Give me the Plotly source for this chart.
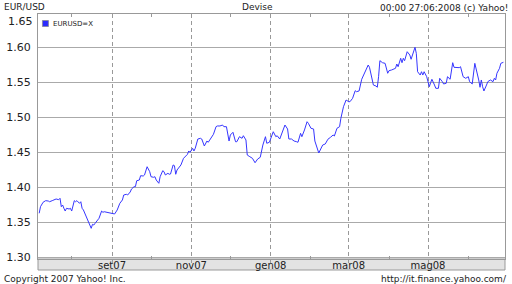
import plotly.graph_objects as go

# ---------------- data ----------------
dates = [
    "2007-07-07", "2007-07-08", "2007-07-10", "2007-07-12", "2007-07-14", "2007-07-15",
    "2007-07-17", "2007-07-19", "2007-07-20", "2007-07-22", "2007-07-23", "2007-07-24",
    "2007-07-25", "2007-07-26", "2007-07-27", "2007-07-28", "2007-07-30", "2007-07-31",
    "2007-08-01", "2007-08-03", "2007-08-04", "2007-08-05", "2007-08-07", "2007-08-08",
    "2007-08-09", "2007-08-10", "2007-08-12", "2007-08-14", "2007-08-16", "2007-08-17",
    "2007-08-18", "2007-08-19", "2007-08-21", "2007-08-22", "2007-08-24", "2007-08-25",
    "2007-08-26", "2007-08-28", "2007-08-30", "2007-09-01", "2007-09-03", "2007-09-05",
    "2007-09-07", "2007-09-09", "2007-09-10", "2007-09-12", "2007-09-13", "2007-09-15",
    "2007-09-16", "2007-09-18", "2007-09-19", "2007-09-20", "2007-09-22", "2007-09-23",
    "2007-09-25", "2007-09-26", "2007-09-28", "2007-09-30", "2007-10-01", "2007-10-03",
    "2007-10-04", "2007-10-05", "2007-10-07", "2007-10-08", "2007-10-10", "2007-10-11",
    "2007-10-12", "2007-10-14", "2007-10-15", "2007-10-16", "2007-10-18", "2007-10-19",
    "2007-10-20", "2007-10-21", "2007-10-23", "2007-10-24", "2007-10-26", "2007-10-28",
    "2007-10-29", "2007-10-30", "2007-10-31", "2007-11-02", "2007-11-03", "2007-11-04",
    "2007-11-06", "2007-11-08", "2007-11-09", "2007-11-11", "2007-11-13", "2007-11-14",
    "2007-11-15", "2007-11-16", "2007-11-18", "2007-11-20", "2007-11-21", "2007-11-23",
    "2007-11-25", "2007-11-26", "2007-11-28", "2007-11-30", "2007-12-01", "2007-12-03",
    "2007-12-05", "2007-12-06", "2007-12-08", "2007-12-10", "2007-12-11", "2007-12-13",
    "2007-12-14", "2007-12-16", "2007-12-18", "2007-12-20", "2007-12-22", "2007-12-24",
    "2007-12-26", "2007-12-28", "2007-12-29", "2007-12-31", "2008-01-02", "2008-01-03",
    "2008-01-05", "2008-01-06", "2008-01-08", "2008-01-10", "2008-01-12", "2008-01-14",
    "2008-01-15", "2008-01-17", "2008-01-19", "2008-01-21", "2008-01-22", "2008-01-24",
    "2008-01-25", "2008-01-27", "2008-01-29", "2008-01-30", "2008-02-01", "2008-02-03",
    "2008-02-04", "2008-02-07", "2008-02-08", "2008-02-10", "2008-02-12", "2008-02-14",
    "2008-02-16", "2008-02-18", "2008-02-19", "2008-02-21", "2008-02-23", "2008-02-24",
    "2008-02-26", "2008-02-28", "2008-03-01", "2008-03-02", "2008-03-04", "2008-03-06",
    "2008-03-07", "2008-03-09", "2008-03-11", "2008-03-12", "2008-03-14", "2008-03-16",
    "2008-03-17", "2008-03-18", "2008-03-20", "2008-03-22", "2008-03-23", "2008-03-24",
    "2008-03-25", "2008-03-27", "2008-03-29", "2008-03-31", "2008-04-01", "2008-04-03",
    "2008-04-04", "2008-04-06", "2008-04-07", "2008-04-08", "2008-04-10", "2008-04-11",
    "2008-04-12", "2008-04-13", "2008-04-15", "2008-04-17", "2008-04-18", "2008-04-20",
    "2008-04-21", "2008-04-22", "2008-04-23", "2008-04-25", "2008-04-26", "2008-04-27",
    "2008-04-28", "2008-04-30", "2008-05-02", "2008-05-03", "2008-05-04", "2008-05-06",
    "2008-05-07", "2008-05-09", "2008-05-10", "2008-05-12", "2008-05-13", "2008-05-15",
    "2008-05-16", "2008-05-18", "2008-05-19", "2008-05-20", "2008-05-21", "2008-05-23",
    "2008-05-25", "2008-05-26", "2008-05-28", "2008-05-30", "2008-06-01", "2008-06-02",
    "2008-06-04", "2008-06-06", "2008-06-07", "2008-06-09", "2008-06-10", "2008-06-11",
    "2008-06-12", "2008-06-13", "2008-06-15", "2008-06-16", "2008-06-18", "2008-06-20",
    "2008-06-21", "2008-06-22", "2008-06-23", "2008-06-25", "2008-06-26", "2008-06-28",
]

eurusd = [
    1.3629, 1.3723, 1.3786, 1.3809, 1.3804, 1.3794,
    1.3809, 1.3819, 1.3833, 1.3823, 1.3843, 1.3723,
    1.3747, 1.3700, 1.3661, 1.3700, 1.3690, 1.3700,
    1.3661, 1.3809, 1.3794, 1.3809, 1.3771, 1.3794,
    1.3700, 1.3676, 1.3580, 1.3486, 1.3414, 1.3471,
    1.3461, 1.3486, 1.3533, 1.3557, 1.3661, 1.3643,
    1.3651, 1.3643, 1.3629, 1.3629, 1.3619, 1.3676,
    1.3771, 1.3819, 1.3890, 1.3900, 1.3890, 1.3933,
    1.3976, 1.4009, 1.4009, 1.4094, 1.4104, 1.4166,
    1.4161, 1.4176, 1.4294, 1.4223, 1.4151, 1.4143,
    1.4151, 1.4104, 1.4057, 1.4151, 1.4237, 1.4223,
    1.4176, 1.4200, 1.4186, 1.4190, 1.4319, 1.4309,
    1.4186, 1.4247, 1.4294, 1.4319, 1.4414, 1.4451,
    1.4471, 1.4519, 1.4500, 1.4557, 1.4519, 1.4557,
    1.4690, 1.4700, 1.4690, 1.4590, 1.4661, 1.4643,
    1.4676, 1.4690, 1.4757, 1.4866, 1.4876, 1.4876,
    1.4890, 1.4866, 1.4866, 1.4661, 1.4747, 1.4786,
    1.4651, 1.4651, 1.4723, 1.4700, 1.4737, 1.4676,
    1.4461, 1.4437, 1.4414, 1.4351, 1.4404, 1.4429,
    1.4604, 1.4723, 1.4629, 1.4643, 1.4747, 1.4794,
    1.4723, 1.4737, 1.4690, 1.4804, 1.4890, 1.4833,
    1.4690, 1.4690, 1.4661, 1.4651, 1.4643, 1.4771,
    1.4723, 1.4819, 1.4937, 1.4914, 1.4843, 1.4833,
    1.4661, 1.4490, 1.4533, 1.4604, 1.4619, 1.4686,
    1.4714, 1.4747, 1.4733, 1.4843, 1.4866, 1.4986,
    1.5151, 1.5247, 1.5223, 1.5223, 1.5271, 1.5380,
    1.5366, 1.5376, 1.5543, 1.5580, 1.5676, 1.5747,
    1.5714, 1.5629, 1.5461, 1.5447, 1.5429, 1.5580,
    1.5809, 1.5780, 1.5771, 1.5629, 1.5666, 1.5676,
    1.5686, 1.5700, 1.5761, 1.5723, 1.5843, 1.5780,
    1.5843, 1.5809, 1.5937, 1.5890, 1.5829, 1.5937,
    1.6000, 1.5914, 1.5651, 1.5604, 1.5651, 1.5604,
    1.5651, 1.5580, 1.5437, 1.5494, 1.5543, 1.5461,
    1.5414, 1.5414, 1.5557, 1.5509, 1.5476, 1.5486,
    1.5580, 1.5543, 1.5651, 1.5780, 1.5714, 1.5714,
    1.5709, 1.5723, 1.5580, 1.5557, 1.5580, 1.5509,
    1.5476, 1.5771, 1.5700, 1.5533, 1.5429, 1.5533,
    1.5437, 1.5376, 1.5461, 1.5509, 1.5533, 1.5509,
    1.5557, 1.5533, 1.5629, 1.5700, 1.5771, 1.5786,
]

month_ticks = ["2007-09-01", "2007-11-01", "2008-01-01", "2008-03-01", "2008-05-01"]
month_labels = ["set07", "nov07", "gen08", "mar08", "mag08"]
minor_month_ticks = ["2007-08-01", "2007-10-01", "2007-12-01", "2008-02-01",
                     "2008-04-01", "2008-06-01"]
y_ticks = [1.30, 1.35, 1.40, 1.45, 1.50, 1.55, 1.60]
y_labels = ["1.30", "1.35", "1.40", "1.45", "1.50", "1.55", "1.60"]
top_label = "1.65"
series_name = "EURUSD=X"

FONT = "DejaVu Sans"
GRID = "#aaaaaa"
BORDER = "#999999"
LINE = "#3636ff"

# plot-area geometry in pixels (for paper-coordinate decorations)
W, H = 512, 284
L, R, T, B = 35, 506, 14, 259


def px(x):
    return (x - L) / (R - L)


def py(y):
    return (B - y) / (B - T)


fig = go.Figure()
fig.add_trace(go.Scatter(
    x=dates, y=eurusd, mode="lines", name=series_name,
    line=dict(color=LINE, width=1), showlegend=False, hoverinfo="x+y",
))

fig.update_layout(
    width=W, height=H,
    margin=dict(l=L, r=W - R, t=T, b=H - B, pad=0),
    paper_bgcolor="white", plot_bgcolor="white",
    font=dict(family=FONT, color="#222222"),
    xaxis=dict(
        type="date",
        range=["2007-07-06 02:00", "2008-06-29 05:00"],
        tickmode="array", tickvals=month_ticks, ticktext=month_labels,
        tickfont=dict(size=10, color="#222222"),
        showgrid=True, gridcolor=BORDER, gridwidth=1, griddash="4px,3px",
        ticks="outside", ticklen=3, tickcolor=BORDER,
        showline=True, linecolor=BORDER, linewidth=1, mirror=True,
        zeroline=False,
        minor=dict(tickmode="array", tickvals=minor_month_ticks, ticks="inside",
                   ticklen=3, tickcolor=BORDER, showgrid=False),
        ticklabelstandoff=-6,
    ),
    xaxis2=dict(
        type="date", overlaying="x", matches="x", side="top",
        showticklabels=False, showgrid=False, ticks="", zeroline=False,
        showline=False,
        tickmode="array", tickvals=month_ticks,
        minor=dict(tickmode="array", tickvals=minor_month_ticks, ticks="inside",
                   ticklen=3, tickcolor=BORDER, showgrid=False),
    ),
    yaxis=dict(
        range=[1.29757, 1.64757],
        tickmode="array", tickvals=y_ticks, ticktext=y_labels,
        tickfont=dict(size=11, color="#222222"),
        showgrid=True, gridcolor=GRID, gridwidth=1,
        ticks="", showline=True, linecolor=BORDER, linewidth=1, mirror=True,
        zeroline=False, ticklabelstandoff=4,
    ),
    showlegend=False,
)

# invisible trace so that the top axis is drawn
fig.add_trace(go.Scatter(x=[dates[0]], y=[eurusd[0]], xaxis="x2", mode="markers",
                         marker=dict(opacity=0), showlegend=False, hoverinfo="skip"))

# grey band holding the month labels
fig.add_shape(type="rect", xref="paper", yref="paper", x0=0, x1=1,
              y0=py(270), y1=0, fillcolor="#e3e3e3",
              line=dict(color=BORDER, width=1), layer="below")

# legend marker
fig.add_shape(type="rect", xref="paper", yref="paper",
              x0=px(39.5), x1=px(45.5), y0=py(26.5), y1=py(20.5),
              fillcolor="#2a2aff", line=dict(color="#8888aa", width=1))

ann = [
    dict(text="EUR/USD", x=px(0), y=py(7), xanchor="left", size=9),
    dict(text="Devise", x=px(256), y=py(7), xanchor="center", size=9),
    dict(text="00:00 27:06:2008 (c) Yahoo!", x=px(510), y=py(8), xanchor="right", size=9),
    dict(text="Copyright 2007 Yahoo! Inc.", x=px(0), y=py(279), xanchor="left", size=9),
    dict(text="http://it.finance.yahoo.com/", x=px(509), y=py(279), xanchor="right", size=9),
    dict(text=series_name, x=px(49), y=py(23.5), xanchor="left", size=7),
    dict(text=top_label, x=px(31), y=py(21.5), xanchor="right", size=11),
]
for a in ann:
    fig.add_annotation(text=a["text"], x=a["x"], y=a["y"], xref="paper", yref="paper",
                       xanchor=a["xanchor"], yanchor="middle", showarrow=False,
                       borderpad=0, font=dict(family=FONT, size=a["size"], color="#222222"))

fig.write_html("out.html")
